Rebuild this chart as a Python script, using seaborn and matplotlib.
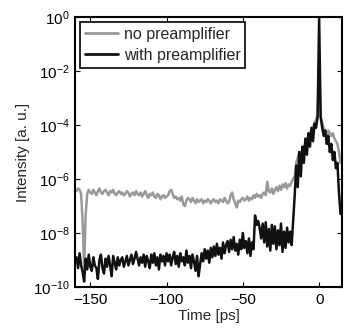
import numpy as np
import pandas as pd
import matplotlib
matplotlib.use("Agg")
import matplotlib.pyplot as plt
import seaborn as sns

# time grid [ps]
time_ps = np.arange(-159, 15, 1)

# log10 intensity, no preamplifier (grey)
log_no_preamp = [
    -6.45, -6.35, -6.40, -6.55, -7.60, -9.30, -7.30, -6.55, -6.40, -6.50,
    -6.55, -6.40, -6.50, -6.60, -6.45, -6.35, -6.50, -6.55, -6.45, -6.40,
    -6.50, -6.60, -6.45, -6.50, -6.40, -6.55, -6.60, -6.50, -6.45, -6.55,
    -6.50, -6.60, -6.55, -6.45, -6.50, -6.65, -6.55, -6.50, -6.60, -6.45,
    -6.55, -6.60, -6.50, -6.65, -6.55, -6.45, -6.60, -6.70, -6.55, -6.60,
    -6.50, -6.65, -6.70, -6.55, -6.60, -6.75, -6.65, -6.60, -6.70, -6.65,
    -6.60, -6.45, -6.40, -6.55, -6.70, -6.65, -6.75, -6.70, -6.80, -6.65,
    -6.95, -7.00, -6.80, -6.70, -6.75, -6.85, -6.70, -6.80, -6.90, -6.75,
    -6.85, -6.80, -6.75, -6.90, -6.80, -6.85, -6.75, -6.80, -6.90, -6.80,
    -6.75, -6.85, -6.80, -6.90, -6.75, -6.80, -6.85, -6.70, -6.80, -6.90,
    -6.85, -6.60, -6.50, -6.75, -6.90, -7.05, -6.80, -6.85, -6.75, -6.70,
    -6.80, -6.75, -6.65, -6.80, -6.70, -6.75, -6.60, -6.70, -6.55, -6.65,
    -6.60, -6.70, -6.55, -6.50, -6.60, -6.10, -6.45, -6.50, -6.35, -6.55,
    -6.40, -6.30, -6.45, -6.25, -6.40, -6.20, -6.30, -6.15, -6.35, -6.20,
    -6.25, -6.10, -6.00, -5.90, -5.40, -5.20, -5.00, -5.10, -4.90, -4.80,
    -4.70, -4.50, -4.60, -4.30, -4.20, -4.10, -3.90, -3.80, -3.60, -2.00,
    -3.70, -3.90, -4.10, -4.30, -4.40, -4.20, -4.30, -4.40, -4.30, -4.50,
    -4.60, -4.70, -5.00, -5.40,
]

# log10 intensity, with preamplifier (black)
log_with_preamp = [
    -8.90, -9.30, -8.75, -9.20, -9.45, -9.80, -8.95, -9.35, -8.80, -9.25,
    -9.40, -8.90, -9.20, -9.30, -9.70, -9.00, -8.80, -9.30, -9.50, -8.95,
    -9.25, -8.85, -9.20, -9.60, -8.85, -9.10, -9.35, -8.90, -9.20, -9.00,
    -8.90, -9.25, -9.05, -8.85, -9.20, -9.00, -8.80, -9.15, -8.95, -8.70,
    -8.95, -9.20, -8.90, -9.10, -8.80, -9.25, -8.85, -9.05, -9.30, -8.80,
    -9.10, -8.75, -9.20, -8.90, -9.35, -8.80, -9.05, -8.85, -9.20, -8.75,
    -9.05, -8.80, -9.20, -8.90, -8.70, -9.15, -8.85, -9.25, -8.75, -9.05,
    -8.90, -9.20, -8.65, -9.10, -8.85, -9.30, -8.80, -9.05, -9.40, -8.85,
    -9.60, -9.15, -8.75, -9.05, -8.60, -8.95, -8.65, -9.10, -8.55, -8.90,
    -8.50, -8.85, -8.40, -8.80, -8.55, -8.95, -8.35, -8.75, -8.45, -8.30,
    -8.70, -8.25, -8.60, -8.15, -8.65, -8.40, -8.80, -8.25, -8.60, -8.00,
    -8.55, -8.30, -8.75, -8.20, -8.85, -8.35, -8.60, -7.35, -7.70, -7.55,
    -7.80, -8.20, -7.65, -8.35, -7.60, -8.50, -7.85, -8.65, -7.70, -8.40,
    -7.75, -8.60, -7.90, -8.45, -7.65, -8.70, -7.95, -8.55, -7.80, -8.35,
    -7.95, -8.45, -7.50, -6.60, -5.50, -6.30, -5.00, -5.90, -4.80, -5.40,
    -4.50, -5.10, -4.30, -4.80, -4.10, -4.60, -3.95, -4.10, -3.70, -0.02,
    -3.70, -4.10, -4.40, -4.20, -4.70, -4.40, -5.00, -4.70, -5.30, -5.00,
    -5.60, -5.40, -6.50, -7.30,
]

series_labels = ["no preamplifier", "with preamplifier"]
series_colors = ["#999999", "#111111"]

x_ticks = [-150, -100, -50, 0]
y_ticks = [1e-10, 1e-8, 1e-6, 1e-4, 1e-2, 1e0]

df = pd.concat([
    pd.DataFrame({"Time": time_ps, "Intensity": 10.0 ** np.array(log_no_preamp),
                  "series": series_labels[0]}),
    pd.DataFrame({"Time": time_ps, "Intensity": 10.0 ** np.array(log_with_preamp),
                  "series": series_labels[1]}),
], ignore_index=True)

sns.set_style("ticks")
plt.rcParams["font.family"] = ["Liberation Sans", "DejaVu Sans"]
plt.rcParams["mathtext.default"] = "regular"

fig = plt.figure(figsize=(3.51, 3.28), dpi=100)
ax = fig.add_axes([0.2137, 0.125, 0.7607, 0.823])

sns.lineplot(data=df, x="Time", y="Intensity", hue="series",
             hue_order=series_labels, palette=series_colors,
             linewidth=1.8, ax=ax, estimator=None, sort=False)

ax.set_yscale("log")
ax.set_xlim(-160, 15)
ax.set_ylim(1e-10, 1e0)
ax.set_xticks(x_ticks)
ax.set_yticks(y_ticks)
ax.minorticks_off()
ax.tick_params(direction="in", length=3.5, width=0.8, top=True, right=True,
               labelsize=11, colors="black", pad=4)
for sp in ax.spines.values():
    sp.set_linewidth(1.5)
    sp.set_color("black")

ax.set_xlabel("Time [ps]", fontsize=11, labelpad=2)
ax.set_ylabel("Intensity [a. u.]", fontsize=11, labelpad=2)

leg = ax.legend(loc="upper left", fontsize=11.5, frameon=True, fancybox=False,
                edgecolor="black", framealpha=1, borderpad=0.3,
                labelspacing=0.4, handlelength=2.1, handletextpad=0.35,
                borderaxespad=0.3)
leg.get_frame().set_linewidth(1.2)
for h in leg.get_lines():
    h.set_linewidth(2.0)

fig.savefig("out.png", dpi=100)
